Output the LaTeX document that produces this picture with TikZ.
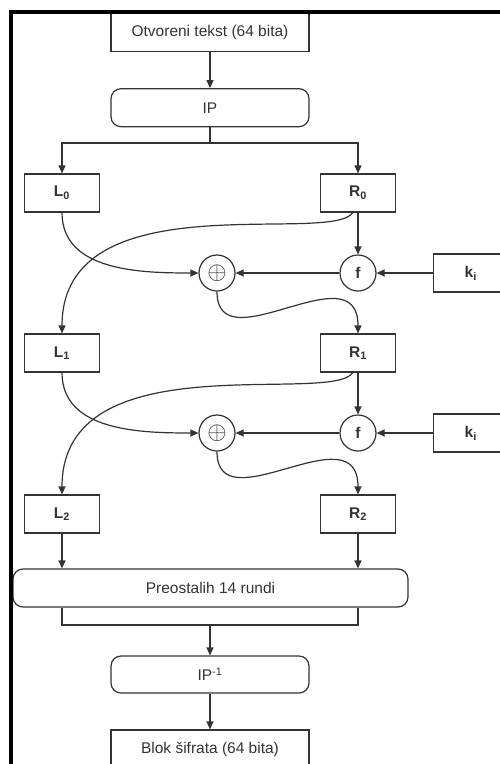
\documentclass[tikz,border=0pt]{standalone}
\usepackage{fontspec}
\setmainfont{Liberation Sans}
\usetikzlibrary{calc}
\usetikzlibrary{positioning}
\usetikzlibrary{arrows.meta}
\definecolor{linija}{HTML}{333333}
\tikzstyle{blok} = [draw=linija, rectangle, minimum width=198pt, minimum height=38pt]
\tikzstyle{polblok} = [draw=linija, rectangle, minimum width=75pt, minimum height=38pt]
\tikzstyle{zaobljen} = [draw=linija, rectangle, rounded corners=10pt, minimum height=38pt]
\tikzstyle{krug} = [draw=linija, circle, minimum size=36pt, inner sep=0pt]
\tikzstyle{tekst} = [font=\fontsize{15.5}{18}\selectfont, text=linija]
\newcommand{\xorznak}{{\fontsize{24}{24}\selectfont$\oplus$}}

\begin{document}
\begin{tikzpicture}[x=1pt, y=-1pt, line width=1.2pt, draw=linija, >={Triangle[length=8pt,width=7pt]}, every node/.style={tekst}]
  \clip (0,0) rectangle (500,764);
  \node[blok] (ulaz) at (210,32.5) {Otvoreni tekst (64 bita)};
  \node[zaobljen, minimum width=198pt, below=36pt of ulaz] (ip) {IP};
  \coordinate (razdvoj) at (210,143);
  \node[polblok] (l0) at (62,193) {\textbf{L\textsubscript{0}}};
  \node[polblok] (r0) at (358,193) {\textbf{R\textsubscript{0}}};
  \node[krug] (x1) at (217,273) {\xorznak};
  \node[krug] (f1) at (r0 |- x1) {\textbf{f}};
  \node[polblok, right=56pt of f1] (k1) {\textbf{k\textsubscript{i}}};
  \node[polblok] (l1) at (62,353) {\textbf{L\textsubscript{1}}};
  \node[polblok] (r1) at (358,353) {\textbf{R\textsubscript{1}}};
  \node[krug] (x2) at (217,433) {\xorznak};
  \node[krug] (f2) at (r1 |- x2) {\textbf{f}};
  \node[polblok, right=56pt of f2] (k2) {\textbf{k\textsubscript{i}}};
  \node[polblok] (l2) at (62,514) {\textbf{L\textsubscript{2}}};
  \node[polblok] (r2) at (358,514) {\textbf{R\textsubscript{2}}};
  \node[zaobljen, minimum width=395pt] (rundi) at (210.5,588) {Preostalih 14 rundi};
  \coordinate (spoj) at (210,625);
  \node[zaobljen, minimum width=198pt, minimum height=37pt] (ipinv) at (210,674.5) {IP\textsuperscript{-1}};
  \node[blok] (izlaz) at (210,749) {Blok šifrata (64 bita)};

  \draw[->] (ulaz) -- (ip);
  \draw (ip) -- (razdvoj);
  \draw[->] (razdvoj) -| (l0);
  \draw[->] (razdvoj) -| (r0);
  % prva runda
  \draw[->] (r0) -- (f1);
  \draw[->] (k1) -- (f1);
  \draw[->] (f1) -- (x1);
  \draw[->] (l0) to[out=-90, in=180] (x1);
  \draw[->] ([xshift=-5pt]r0.south) .. controls +(-23,33) and +(0,-154) .. (l1.north);
  \draw[->] (x1.south) .. controls +(0,74) and +(0,-84) .. (r1.north);
  % druga runda
  \draw[->] (r1) -- (f2);
  \draw[->] (k2) -- (f2);
  \draw[->] (f2) -- (x2);
  \draw[->] (l1) to[out=-90, in=180] (x2);
  \draw[->] ([xshift=-5pt]r1.south) .. controls +(-23,33) and +(0,-154) .. (l2.north);
  \draw[->] (x2.south) .. controls +(0,74) and +(0,-84) .. (r2.north);

  \draw[->] (l2.south) -- (l2.south |- rundi.north);
  \draw[->] (r2.south) -- (r2.south |- rundi.north);
  \draw (rundi.south -| l2) |- (spoj) -| (rundi.south -| r2);
  \draw[->] (spoj) -- (ipinv);
  \draw[->] (ipinv) -- (izlaz);

  \draw[line width=4pt, black] (11,764) -- (11,12) -- (500,12);
\end{tikzpicture}
\end{document}
